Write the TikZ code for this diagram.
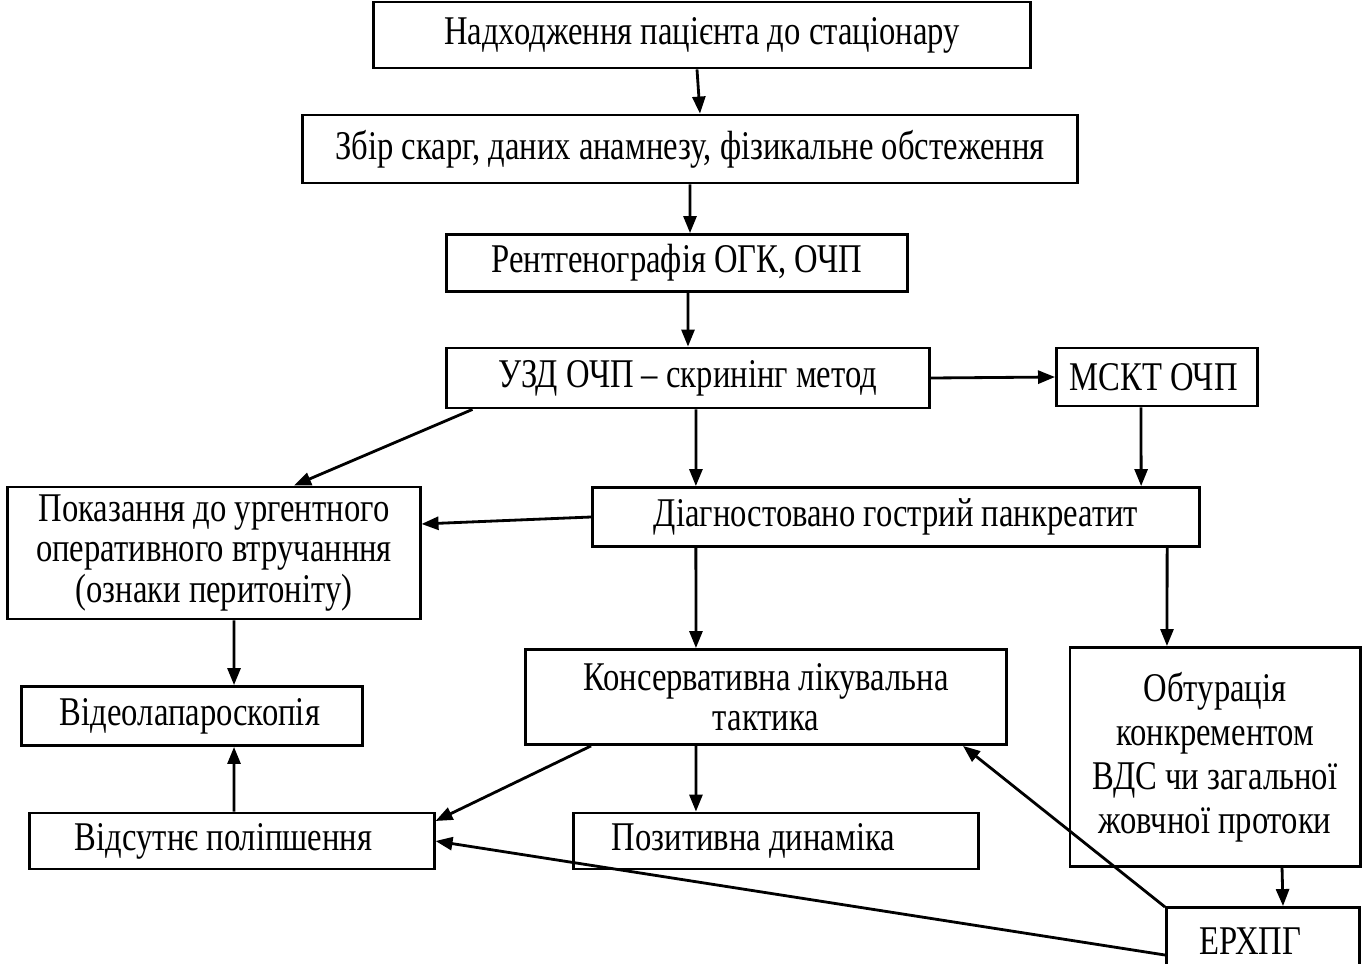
\documentclass[tikz,border=0pt]{standalone}
\usepackage{fontspec}
\setmainfont[FakeStretch=0.8]{Liberation Serif}
\usetikzlibrary{arrows.meta}

\begin{document}
\begin{tikzpicture}[x=0.01cm,y=-0.01cm,
    box/.style={draw=black,rectangle,line width=0.8pt,inner sep=0pt,align=center,
      font=\fontsize{11.6}{11.5}\selectfont},
    lbox/.style={box,align=flush left,inner xsep=#1},
    arr/.style={-{Triangle[length=0.17cm,width=0.13cm]},line width=0.8pt}]
                \clip (0,0) rectangle (1366,963);
                % boxes
                \node[box,minimum width=6.57cm,minimum height=0.66cm] (start) at (702,35) {Надходження пацієнта до стаціонару};
                \node[box,minimum width=7.75cm,minimum height=0.68cm] (complaints) at (690,149) {Збір скарг, даних анамнезу, фізикальне обстеження};
                \node[box,minimum width=4.61cm,minimum height=0.57cm] (xray) at (677,263) {Рентгенографія ОГК, ОЧП};
                \node[box,minimum width=4.82cm,minimum height=0.60cm] (usd) at (688,378) {УЗД ОЧП – скринінг метод};
                \node[lbox=0.13cm,text width=1.75cm,minimum height=0.58cm] (msct) at (1157,377) {МСКТ ОЧП};
                \node[box,minimum width=4.12cm,minimum height=1.32cm] (surgery) at (214,553) {Показання до ургентного\\оперативного втручанння\\(ознаки перитоніту)};
                \node[box,minimum width=6.07cm,minimum height=0.59cm] (diag) at (896,517) {Діагностовано гострий панкреатит};
                \node[lbox=0.38cm,text width=2.64cm,minimum height=0.59cm] (video) at (192,716) {Відеолапароскопія};
                \node[box,minimum width=4.81cm,minimum height=0.95cm] (conserv) at (766,697) {Консервативна лікувальна\\тактика};
                \node[box,minimum width=2.90cm,minimum height=2.19cm,font=\fontsize{11.6}{12.5}\selectfont] (obtur) at (1215,757) {Обтурація\\конкрементом\\ВДС чи загальної\\жовчної протоки};
                \node[lbox=0.45cm,text width=3.14cm,minimum height=0.56cm] (none) at (232,841) {Відсутнє поліпшення};
                \node[lbox=0.38cm,text width=3.28cm,minimum height=0.56cm] (positive) at (776,841) {Позитивна динаміка};
                \node[lbox=0.33cm,text width=1.27cm,minimum height=0.67cm] (ercp) at (1263,941) {ЕРХПГ};
                % connectors
                \draw[arr] ([xshift=-0.05cm]start.south) -- ([xshift=0.10cm]complaints.north);
                \draw[arr] (complaints.south) -- ([xshift=0.13cm]xray.north);
                \draw[arr] ([xshift=0.11cm]xray.south) -- (usd.north);
                \draw[arr] (usd.east) -- (msct.west);
                \draw[arr] ([xshift=0.27cm]usd.south west) -- ([xshift=0.80cm]surgery.north);
                \draw[arr] ([xshift=0.08cm]usd.south) -- ([xshift=-2.00cm]diag.north);
                \draw[arr] ([xshift=-0.16cm]msct.south) -- ([xshift=2.45cm]diag.north);
                \draw[arr] (diag.west) -- ([yshift=0.29cm]surgery.east);
                \draw[arr] ([xshift=-2.00cm]diag.south) -- ([xshift=-0.70cm]conserv.north);
                \draw[arr] ([xshift=2.71cm]diag.south) -- ([xshift=-0.48cm]obtur.north);
                \draw[arr] ([xshift=0.20cm]surgery.south) -- ([xshift=0.42cm]video.north);
                \draw[arr] ([xshift=0.02cm]none.north) -- ([xshift=0.42cm]video.south);
                \draw[arr] ([xshift=0.67cm]conserv.south west) -- ([yshift=0.20cm]none.east);
                \draw[arr] ([xshift=-0.70cm]conserv.south) -- ([xshift=-0.80cm]positive.north);
                \draw[arr] ([xshift=0.67cm]obtur.south) -- ([xshift=0.20cm]ercp.north);
                \draw[arr] ([yshift=0.34cm]ercp.west) -- ([xshift=-0.45cm]conserv.south east);
                \draw[arr] ([yshift=-0.14cm]ercp.west) -- (none.east);
            \end{tikzpicture}
\end{document}
